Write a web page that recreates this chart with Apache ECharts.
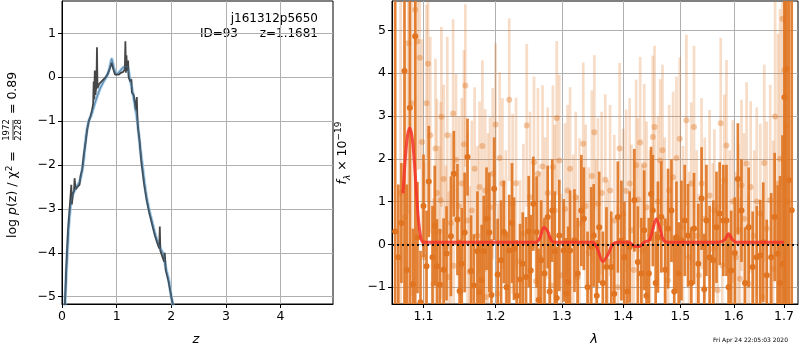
<!DOCTYPE html>
<html>
<head>
<meta charset="utf-8">
<script src="https://cdn.jsdelivr.net/npm/echarts@6/dist/echarts.min.js"></script>
<style>
  html, body { margin: 0; padding: 0; background: #fff; }
  #main { width: 800px; height: 350px; }
</style>
</head>
<body>
<div id="main"></div>
<script>
// p(z) panel
const zSmooth = [0.05, 0.08, 0.12, 0.15, 0.18, 0.22, 0.27, 0.33, 0.39, 0.44, 0.49, 0.54, 0.58, 0.64, 0.70, 0.76, 0.82, 0.87, 0.91, 0.95,
  1.00, 1.05, 1.12, 1.19, 1.23, 1.28, 1.33, 1.38, 1.43, 1.47, 1.53, 1.59, 1.65, 1.70, 1.75, 1.80, 1.86, 1.90, 1.95, 2.00, 2.05]
const pSmooth = [-5.3, -4.4, -3.45, -3.0, -2.75, -2.6, -2.5, -2.35, -1.95, -1.35, -1.0, -0.85, -0.68, -0.45, -0.25, -0.1, 0.02, 0.2, 0.42, 0.2,
  0.08, 0.12, 0.22, 0.25, 0.05, -0.25, -0.6, -1.0, -1.6, -2.0, -2.6, -3.0, -3.3, -3.55, -3.75, -3.9, -4.05, -4.35, -4.6, -5.0, -5.3]
const zRaw = [0.05, 0.08, 0.11, 0.14, 0.17, 0.18, 0.20, 0.22, 0.23, 0.25, 0.28, 0.32, 0.34, 0.37, 0.40, 0.43, 0.46, 0.49, 0.52, 0.55,
  0.57, 0.58, 0.59, 0.60, 0.61, 0.63, 0.64, 0.65, 0.68, 0.72, 0.76, 0.80, 0.84, 0.88, 0.91, 0.94, 0.97, 1.00, 1.04, 1.08,
  1.12, 1.15, 1.16, 1.17, 1.18, 1.19, 1.21, 1.22, 1.25, 1.27, 1.28, 1.31, 1.33, 1.35, 1.37, 1.38, 1.39, 1.42, 1.45, 1.50,
  1.55, 1.60, 1.65, 1.70, 1.75, 1.78, 1.79, 1.80, 1.84, 1.87, 1.88, 1.90, 1.95, 2.00, 2.05]
const pRaw = [-5.3, -4.3, -3.5, -3.0, -2.45, -2.9, -2.65, -2.6, -2.3, -2.55, -2.5, -2.45, -2.25, -2.1, -1.75, -1.5, -1.2, -1.0, -0.9, -0.75,
  -0.6, -0.1, -0.5, 0.15, -0.4, -0.2, 0.68, -0.25, -0.15, -0.1, -0.05, 0.0, 0.08, 0.22, 0.33, 0.18, 0.06, 0.02, 0.06, 0.1,
  0.12, 0.18, 0.82, 0.1, 0.5, 0.15, 0.38, 0.0, -0.1, -0.05, -0.35, -0.4, -0.55, -0.75, -0.45, -0.95, -1.15, -1.45, -1.9, -2.4,
  -2.8, -3.1, -3.35, -3.6, -3.8, -3.9, -3.4, -3.95, -4.1, -4.2, -4.0, -4.4, -4.65, -5.0, -5.3]
const zTicks = [0, 1, 2, 3, 4]
const pTicks = [-5, -4, -3, -2, -1, 0, 1]

// spectrum panel
const darkLam = [1.063, 1.067, 1.071, 1.075, 1.078, 1.082, 1.086, 1.089, 1.092, 1.096,
  1.100, 1.104, 1.107, 1.112, 1.115, 1.118, 1.122, 1.127, 1.131, 1.137,
  1.141, 1.146, 1.149, 1.152, 1.156, 1.160, 1.165, 1.169, 1.174, 1.177,
  1.180, 1.183, 1.187, 1.191, 1.194, 1.198, 1.203, 1.208, 1.212, 1.216,
  1.220, 1.224, 1.227, 1.231, 1.236, 1.240, 1.245, 1.249, 1.252, 1.256,
  1.261, 1.264, 1.268, 1.273, 1.278, 1.281, 1.285, 1.289, 1.292, 1.296,
  1.303, 1.307, 1.310, 1.313, 1.320, 1.325, 1.331, 1.335, 1.341, 1.347,
  1.351, 1.356, 1.360, 1.366, 1.372, 1.380, 1.385, 1.391, 1.397, 1.402,
  1.407, 1.411, 1.419, 1.425, 1.431, 1.436, 1.440, 1.444, 1.448, 1.451,
  1.456, 1.460, 1.466, 1.473, 1.478, 1.484, 1.489, 1.493, 1.497, 1.502,
  1.508, 1.514, 1.520, 1.525, 1.533, 1.539, 1.544, 1.548, 1.554, 1.561,
  1.567, 1.573, 1.580, 1.586, 1.590, 1.595, 1.602, 1.608, 1.615, 1.622,
  1.629, 1.637, 1.645, 1.652, 1.658, 1.665, 1.674, 1.681, 1.687, 1.692,
  1.697, 1.701, 1.705, 1.710, 1.716]
const darkFlux = [0.3, -0.3, 0.5, 4.05, -0.6, 3.19, -0.93, 4.86, 0.16, -1.35,
  0.9, -0.51, 1.47, -0.3, 0.44, -0.51, -0.94, -0.59, -0.21, 0.19,
  1.65, 0.58, -1.09, -0.45, 0.28, 2.04, -0.62, -0.96, -0.16, -1.11,
  -0.84, -0.16, 0.6, 0.28, -1.18, 1.30, -0.7, -0.37, 0.29, -1.0,
  -0.14, 0.5, -0.1, -1.2, -0.82, -0.45, -0.76, 0.3, -0.61, 0.95,
  0.29, -1.3, -0.37, -0.68, 0.64, -1.1, 0.79, -0.16, -1.25, 0.21,
  -0.14, -1.15, -0.88, -0.14, 0.09, -0.68, 0.79, 0.6, -1.0, -0.06,
  0.21, -1.2, 0.40, -0.9, -0.53, -0.53, -1.15, 0.64, 0.09, -0.30,
  -1.1, -0.06, 1.03, -0.41, -0.68, 0.33, -1.2, -0.68, 1.18, 0.79,
  -0.9, 0.17, 0.64, -0.59, 0.37, 0.79, -1.1, 0.17, -0.68, 0.09,
  0.56, 0.21, -0.9, 0.37, -0.45, 1.07, -1.05, 0.56, -0.30, -0.37,
  0.40, 0.72, 0.56, 0.56, -1.0, -0.61, -0.2, 1.53, 0.79, -0.9,
  0.40, -0.53, -0.30, -0.26, 0.05, -0.72, -0.30, 0.64, -0.22, -0.9,
  -0.45, 3.44, 4.1, 1.5, 0.8]
const darkErr = [6.0, 1.7, 1.4, 5.5, 2.0, 4.8, 1.3, 6.5, 1.3, 1.2,
  1.2, 1.3, 1.3, 1.2, 1.4, 1.1, 1.3, 1.2, 1.1, 1.4,
  1.0, 1.3, 1.2, 1.3, 1.4, 0.9, 1.3, 1.2, 1.4, 1.2,
  1.3, 1.3, 1.2, 1.4, 1.3, 1.2, 1.3, 1.4, 1.2, 1.3,
  1.3, 1.4, 1.2, 1.3, 1.3, 1.2, 1.4, 1.3, 1.3, 1.1,
  1.3, 1.2, 1.4, 1.3, 1.2, 1.3, 1.2, 1.4, 1.2, 1.3,
  1.2, 1.3, 1.3, 1.4, 1.2, 1.3, 1.3, 1.2, 1.3, 1.4,
  1.2, 1.3, 1.3, 1.2, 1.4, 1.3, 1.2, 1.3, 1.4, 1.3,
  1.2, 1.3, 1.2, 1.3, 1.3, 1.4, 1.2, 1.3, 1.1, 1.3,
  1.2, 1.3, 1.3, 1.2, 1.4, 1.2, 1.3, 1.3, 1.2, 1.4,
  1.3, 1.2, 1.3, 1.3, 1.4, 1.2, 1.3, 1.3, 1.2, 1.4,
  1.3, 1.2, 1.3, 1.3, 1.2, 1.4, 1.3, 1.3, 1.2, 1.3,
  1.4, 1.3, 1.2, 1.3, 1.4, 1.3, 1.5, 1.5, 1.6, 2.5,
  3.0, 5.5, 6.0, 6.0, 6.0]
const lightLam = [1.070, 1.076, 1.080, 1.084, 1.089, 1.092, 1.095, 1.098, 1.101, 1.104,
  1.106, 1.109, 1.113, 1.116, 1.118, 1.121, 1.123, 1.124, 1.127, 1.130,
  1.132, 1.134, 1.137, 1.140, 1.141, 1.144, 1.148, 1.152, 1.155, 1.157,
  1.160, 1.163, 1.166, 1.170, 1.174, 1.177, 1.181, 1.185, 1.186, 1.189,
  1.192, 1.196, 1.200, 1.203, 1.206, 1.210, 1.215, 1.220, 1.225, 1.230,
  1.236, 1.241, 1.246, 1.251, 1.257, 1.260, 1.263, 1.266, 1.270, 1.274,
  1.278, 1.283, 1.286, 1.289, 1.292, 1.296, 1.299, 1.305, 1.309, 1.313,
  1.318, 1.322, 1.325, 1.328, 1.334, 1.338, 1.343, 1.348, 1.352, 1.355,
  1.358, 1.364, 1.370, 1.374, 1.378, 1.385, 1.391, 1.394, 1.400, 1.405,
  1.411, 1.414, 1.418, 1.422, 1.425, 1.429, 1.433, 1.436, 1.440, 1.446,
  1.451, 1.454, 1.460, 1.464, 1.468, 1.472, 1.478, 1.480, 1.487, 1.493,
  1.499, 1.505, 1.511, 1.516, 1.520, 1.525, 1.530, 1.534, 1.539, 1.545,
  1.554, 1.560, 1.563, 1.569, 1.575, 1.578, 1.582, 1.586, 1.592, 1.598,
  1.604, 1.609, 1.612, 1.615, 1.620, 1.625, 1.629, 1.633, 1.640, 1.645,
  1.652, 1.656, 1.660, 1.665, 1.672, 1.678, 1.682, 1.688, 1.692, 1.697,
  1.701, 1.705, 1.708]
const lightFlux = [1.2, 0.64, 4.7, 3.3, 5.48, 4.74, 4.36, 2.39, -0.3, 3.3,
  4.22, 2.55, -0.92, 2.24, 1.2, 0.3, 1.03, 2.98, 1.53, -0.06,
  2.55, -0.76, 0.5, 3.06, -0.5, 1.98, 0.9, 1.42, 2.34, 3.71,
  0.56, -0.64, 0.79, 1.77, 0.2, 1.34, 2.3, 1.26, -1.23, 0.6,
  0.87, 1.65, 2.8, -1.15, 2.02, 1.42, 0.2, 3.38, 0.95, 1.43,
  -0.4, 0.25, 2.78, 1.1, 1.92, -0.86, 1.65, -0.3, 1.82, 0.5,
  1.2, -0.96, 1.81, 0.79, 2.95, 1.96, -0.72, 0.83, 1.26, 1.77,
  0.1, 1.1, -0.76, 0.48, 2.35, 0.9, -0.2, 1.6, 2.62, -0.02,
  0.95, 1.2, 1.51, -0.4, 1.26, 0.56, -1.0, 2.24, 0.7, 1.25,
  1.42, 0.33, -0.6, 1.85, 1.05, 2.38, -0.14, 1.85, 0.87, 0.2,
  2.51, 2.74, 1.0, 1.96, 2.2, 0.5, -0.84, 1.26, 1.57, 2.02,
  2.47, 0.4, 2.9, -0.3, 1.42, 2.74, 0.2, -0.72, 1.42, 0.6,
  1.14, -0.1, 0.79, -1.07, 2.83, -0.49, 1.5, 2.31, 0.2, 1.0,
  -0.3, 0.33, -0.8, 1.38, 0.6, 1.89, -0.92, 1.34, 0.2, 1.0,
  0.72, -1.23, 1.9, 0.37, 1.03, -0.57, 2.99, 1.42, 2.0, 5.27,
  4.07, 2.76, 1.0]
const lightErr = [4.5, 4.0, 4.0, 4.5, 4.0, 3.0, 2.6, 2.4, 2.2, 2.3,
  2.2, 2.3, 2.0, 2.1, 2.2, 2.0, 2.3, 2.1, 2.2, 1.9,
  2.3, 2.0, 2.1, 2.2, 1.9, 2.0, 2.1, 2.0, 2.2, 1.9,
  2.1, 2.0, 2.1, 1.9, 2.1, 2.0, 2.0, 1.9, 2.1, 2.0,
  2.1, 2.0, 1.9, 2.1, 2.0, 2.0, 2.0, 1.9, 2.1, 2.0,
  1.9, 2.1, 1.9, 2.0, 2.0, 1.9, 2.0, 2.0, 1.9, 2.0,
  2.0, 2.0, 1.9, 2.0, 1.8, 2.0, 1.9, 2.0, 2.0, 1.9,
  2.0, 2.0, 1.9, 2.0, 1.9, 1.9, 2.0, 2.0, 1.8, 2.0,
  2.0, 1.9, 2.0, 1.9, 2.0, 2.0, 1.9, 2.0, 2.0, 1.9,
  2.0, 2.0, 1.9, 2.0, 1.9, 2.0, 2.0, 1.9, 2.0, 2.0,
  1.9, 1.9, 2.0, 1.9, 2.0, 2.0, 1.9, 2.0, 2.0, 1.9,
  1.9, 1.9, 2.0, 2.0, 1.9, 1.9, 2.0, 1.9, 2.0, 1.9,
  2.0, 2.0, 1.9, 2.0, 2.0, 1.9, 2.0, 2.0, 2.0, 1.9,
  2.0, 2.0, 1.9, 2.0, 2.0, 1.9, 2.1, 2.0, 2.0, 2.2,
  2.1, 2.0, 2.3, 2.5, 2.7, 3.0, 3.0, 3.5, 3.5, 4.0,
  4.0, 5.0, 5.0]
const modelLam = [1.073, 1.076, 1.079, 1.082, 1.085, 1.088, 1.091, 1.094, 1.097, 1.100,
  1.260, 1.266, 1.272, 1.278, 1.284, 1.290, 1.350, 1.357, 1.366, 1.374, 1.382, 1.390,
  1.410, 1.420, 1.428, 1.436, 1.445, 1.451, 1.457, 1.463, 1.469, 1.476,
  1.570, 1.582, 1.590, 1.597, 1.605, 1.700]
const modelFlux = [1.2, 2.0, 2.55, 2.72, 2.5, 1.9, 1.1, 0.45, 0.12, 0.05,
  0.05, 0.15, 0.4, 0.3, 0.08, 0.05, 0.05, -0.1, -0.4, -0.25, 0.0, 0.05,
  0.05, -0.05, -0.05, 0.05, 0.1, 0.35, 0.6, 0.4, 0.12, 0.05,
  0.05, 0.1, 0.25, 0.12, 0.05, 0.05]
const lamTicks = [1.1, 1.2, 1.3, 1.4, 1.5, 1.6, 1.7]
const fluxTicks = [-1, 0, 1, 2, 3, 4, 5]

const FONT = "DejaVu Sans"
const ORANGE = "#e07420"

function minus(v) {
  return v < 0 ? "\u2212" + Math.abs(v) : String(v)
}

function makeAxis(grid, min, max, ticks, formatter) {
  return {
    gridIndex: grid,
    type: "value",
    min: min,
    max: max,
    axisLine: { show: true, onZero: false, lineStyle: { color: "#000", width: 1 } },
    axisTick: { show: true, inside: false, length: 4, customValues: ticks, lineStyle: { color: "#000", width: 1 } },
    axisLabel: { color: "#000", fontSize: 12.5, fontFamily: FONT, margin: 6, customValues: ticks, formatter: formatter },
    splitLine: { show: true, lineStyle: { color: "#b0b0b0", width: 1 } }
  }
}

// error bar + dot drawn from the axis scales
function errorBars(color, barAlpha, dotAlpha) {
  return function (params, api) {
    const x = api.value(0)
    const y = api.value(1)
    const e = api.value(2)
    const hi = api.coord([x, y + e])
    const lo = api.coord([x, y - e])
    const c = api.coord([x, y])
    return {
      type: "group",
      children: [
        { type: "line", shape: { x1: hi[0], y1: hi[1], x2: lo[0], y2: lo[1] }, style: { stroke: color, lineWidth: 2.7, opacity: barAlpha } },
        { type: "circle", shape: { cx: c[0], cy: c[1], r: 3 }, style: { fill: color, opacity: dotAlpha } }
      ]
    }
  }
}

const chart = echarts.init(document.getElementById("main"))

const option = {
  animation: false,
  textStyle: { fontFamily: FONT },
  grid: [
    { left: 62, top: 1, width: 271, height: 303, show: true, borderColor: "#000", borderWidth: 1 },
    { left: 392, top: 1, width: 406, height: 303, show: true, borderColor: "#000", borderWidth: 1 }
  ],
  xAxis: [
    makeAxis(0, 0, 4.96, zTicks, (v) => minus(v)),
    makeAxis(1, Math.log(1.0589), Math.log(1.7291), lamTicks.map(Math.log), (v) => Math.exp(v).toFixed(1))
  ],
  yAxis: [
    makeAxis(0, -5.166, 1.736, pTicks, (v) => minus(v)),
    makeAxis(1, -1.392, 5.686, fluxTicks, (v) => minus(v))
  ],
  graphic: [
    { type: "text", x: 318, y: 19, style: { text: "j161312p5650", font: "12px " + FONT, fill: "#000", align: "right", verticalAlign: "middle", textAlign: "right", textVerticalAlign: "middle" } },
    { type: "text", x: 238, y: 34, style: { text: "ID=93", font: "12px " + FONT, fill: "#000", align: "right", verticalAlign: "middle", textAlign: "right", textVerticalAlign: "middle" } },
    { type: "text", x: 318, y: 34, style: { text: "z=1.1681", font: "12px " + FONT, fill: "#000", align: "right", verticalAlign: "middle", textAlign: "right", textVerticalAlign: "middle" } },
    { type: "text", x: 196, y: 340, style: { text: "z", font: "italic 13px " + FONT, fill: "#000", align: "center", verticalAlign: "middle", textAlign: "center", textVerticalAlign: "middle" } },
    { type: "text", x: 594, y: 340, style: { text: "λ", font: "italic 13px " + FONT, fill: "#000", align: "center", verticalAlign: "middle", textAlign: "center", textVerticalAlign: "middle" } },
    { type: "text", x: 788, y: 340, style: { text: "Fri Apr 24 22:05:03 2020", font: "6px " + FONT, fill: "#000", align: "right", verticalAlign: "middle", textAlign: "right", textVerticalAlign: "middle" } },
    // log p(z) / chi2 label, drawn along the left edge
    {
      type: "group", x: 13, y: 152, rotation: Math.PI / 2,
      children: [
        {
          type: "text", x: -86, y: 0,
          style: {
            text: "{n|log }{i|p}{n|(z) / χ}{s|2}{n| =}",
            rich: {
              n: { fontSize: 12.5, fontFamily: FONT, lineHeight: 16 },
              i: { fontSize: 12.5, fontFamily: FONT, fontStyle: "italic", lineHeight: 16 },
              s: { fontSize: 9, fontFamily: FONT, verticalAlign: "top", lineHeight: 16 }
            },
            fill: "#000", align: "left", verticalAlign: "middle", textAlign: "left", textVerticalAlign: "middle"
          }
        },
        { type: "text", x: 22, y: -6, style: { text: "1972", font: "8.5px " + FONT, fill: "#000", align: "center", verticalAlign: "middle", textAlign: "center", textVerticalAlign: "middle" } },
        { type: "line", shape: { x1: 12, y1: 0, x2: 32, y2: 0 }, style: { stroke: "#000", lineWidth: 0.8 } },
        { type: "text", x: 22, y: 6, style: { text: "2228", font: "8.5px " + FONT, fill: "#000", align: "center", verticalAlign: "middle", textAlign: "center", textVerticalAlign: "middle" } },
        { type: "text", x: 34, y: 0, style: { text: " = 0.89", font: "12.5px " + FONT, fill: "#000", align: "left", verticalAlign: "middle", textAlign: "left", textVerticalAlign: "middle" } }
      ]
    },
    // f_lambda label
    {
      type: "text", x: 343, y: 153, rotation: Math.PI / 2,
      style: {
        text: "{i|f}{b|λ}{n| × 10}{t|−19}",
        rich: {
          n: { fontSize: 12.5, fontFamily: FONT, lineHeight: 18 },
          i: { fontSize: 12.5, fontFamily: FONT, fontStyle: "italic", lineHeight: 18 },
          b: { fontSize: 9, fontFamily: FONT, fontStyle: "italic", verticalAlign: "bottom", lineHeight: 18 },
          t: { fontSize: 9, fontFamily: FONT, verticalAlign: "top", lineHeight: 18 }
        },
        fill: "#000", align: "center", verticalAlign: "middle", textAlign: "center", textVerticalAlign: "middle"
      }
    }
  ],
  series: [
    {
      type: "line", xAxisIndex: 0, yAxisIndex: 0, showSymbol: false, smooth: 0.3, z: 2,
      data: zSmooth.map((z, i) => [z, pSmooth[i]]),
      lineStyle: { color: "#92c2e6", width: 3.2, opacity: 0.85 }
    },
    {
      type: "line", xAxisIndex: 0, yAxisIndex: 0, showSymbol: false, z: 3,
      data: zRaw.map((z, i) => [z, pRaw[i]]),
      lineStyle: { color: "#333", width: 1.8, opacity: 0.9 }
    },
    {
      type: "line", xAxisIndex: 0, yAxisIndex: 0, showSymbol: false, smooth: 0.3, z: 4,
      data: zSmooth.map((z, i) => [z, pSmooth[i]]),
      lineStyle: { color: "#4a7292", width: 1.2, opacity: 0.7 }
    },
    {
      type: "custom", xAxisIndex: 1, yAxisIndex: 1, clip: true, z: 2,
      renderItem: errorBars(ORANGE, 0.25, 0.38),
      encode: { x: 0, y: 1 },
      data: lightLam.map((l, i) => [Math.log(l), lightFlux[i], lightErr[i]])
    },
    {
      type: "custom", xAxisIndex: 1, yAxisIndex: 1, clip: true, z: 3,
      renderItem: errorBars(ORANGE, 0.9, 1),
      encode: { x: 0, y: 1 },
      data: darkLam.map((l, i) => [Math.log(l), darkFlux[i], darkErr[i]])
    },
    {
      type: "line", xAxisIndex: 1, yAxisIndex: 1, showSymbol: false, smooth: 0.3, z: 4,
      data: modelLam.map((l, i) => [Math.log(l), modelFlux[i]]),
      lineStyle: { color: "#f5322a", width: 3, opacity: 0.85 },
      markLine: {
        silent: true, symbol: "none", label: { show: false }, z: 5,
        lineStyle: { color: "#111", type: [2, 3], width: 2 },
        data: [{ yAxis: 0 }]
      }
    }
  ]
}

chart.setOption(option)
</script>
</body>
</html>
